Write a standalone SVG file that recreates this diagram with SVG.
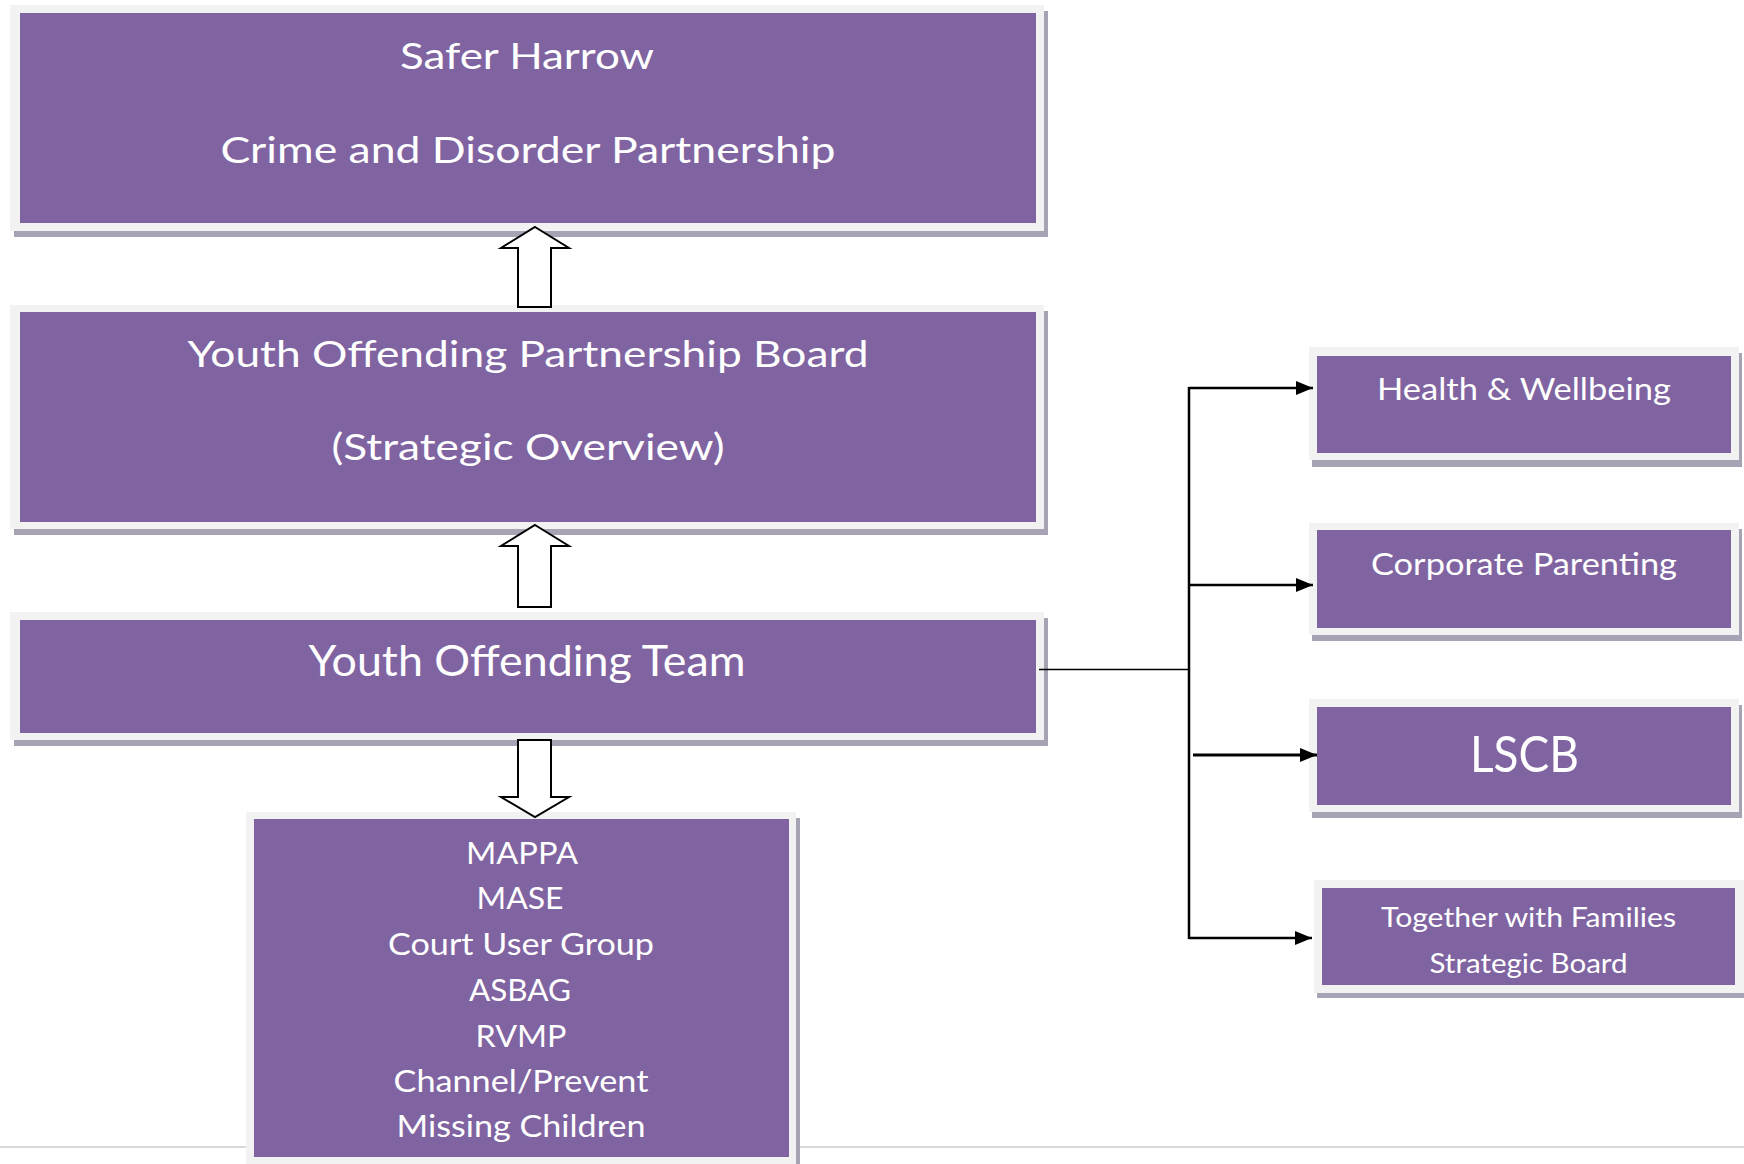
<svg xmlns="http://www.w3.org/2000/svg" width="1744" height="1164" viewBox="0 0 1744 1164">
<style>
.shadow{fill:#a8a3b4}
.frame{fill:#f2f2f2}
.box{fill:#8064a2}
.t{fill:#ffffff;font-family:Lato,"Open Sans","Liberation Sans",sans-serif;text-anchor:middle}
.conn{stroke:#000;fill:none}
.block{fill:#ffffff;stroke:#000;stroke-width:2;stroke-linejoin:miter}
</style>
<defs>
<marker id="ah" markerUnits="userSpaceOnUse" markerWidth="18" markerHeight="15" refX="17" refY="7" orient="auto">
<path d="M0,0 L17,7 L0,14 z" fill="#000"/>
</marker>
</defs>
<rect x="0" y="0" width="1744" height="1164" fill="#ffffff"/>
<line x1="0" y1="1147" x2="1744" y2="1147" stroke="#d9d9d9" stroke-width="2"/>

<g id="safer-harrow">
<rect class="shadow" x="14" y="11" width="1034" height="226"/>
<rect class="frame" x="10" y="5" width="1034" height="226"/>
<rect class="box" x="20" y="13" width="1016" height="210"/>
<text class="t" x="527" y="69" font-size="36" textLength="254" lengthAdjust="spacingAndGlyphs">Safer Harrow</text>
<text class="t" x="528" y="163" font-size="36" textLength="615" lengthAdjust="spacingAndGlyphs">Crime and Disorder Partnership</text>
</g>

<g id="yopb">
<rect class="shadow" x="14" y="311" width="1034" height="224"/>
<rect class="frame" x="10" y="305" width="1034" height="224"/>
<rect class="box" x="20" y="312" width="1016" height="210"/>
<text class="t" x="528" y="367" font-size="37" textLength="681" lengthAdjust="spacingAndGlyphs">Youth Offending Partnership Board</text>
<text class="t" x="528" y="460" font-size="37" textLength="393" lengthAdjust="spacingAndGlyphs">(Strategic Overview)</text>
</g>

<g id="yot">
<rect class="shadow" x="14" y="618" width="1034" height="128"/>
<rect class="frame" x="10" y="612" width="1034" height="128"/>
<rect class="box" x="20" y="620" width="1016" height="113"/>
<text class="t" x="527" y="676" font-size="42" textLength="437" lengthAdjust="spacingAndGlyphs">Youth Offending Team</text>
</g>

<g id="groups">
<rect class="shadow" x="250" y="818" width="550" height="360"/>
<rect class="frame" x="246" y="812" width="550" height="360"/>
<rect class="box" x="254" y="819" width="535" height="338"/>
<text class="t" x="522" y="864" font-size="30" textLength="112" lengthAdjust="spacingAndGlyphs">MAPPA</text>
<text class="t" x="520" y="909" font-size="30" textLength="87" lengthAdjust="spacingAndGlyphs">MASE</text>
<text class="t" x="521" y="955" font-size="30" textLength="266" lengthAdjust="spacingAndGlyphs">Court User Group</text>
<text class="t" x="520" y="1001" font-size="30" textLength="102" lengthAdjust="spacingAndGlyphs">ASBAG</text>
<text class="t" x="521" y="1047" font-size="30" textLength="91" lengthAdjust="spacingAndGlyphs">RVMP</text>
<text class="t" x="521" y="1092" font-size="30" textLength="255" lengthAdjust="spacingAndGlyphs">Channel/Prevent</text>
<text class="t" x="521" y="1137" font-size="30" textLength="249" lengthAdjust="spacingAndGlyphs">Missing Children</text>
</g>

<g id="health">
<rect class="shadow" x="1312" y="353" width="430" height="114"/>
<rect class="frame" x="1309" y="347" width="430" height="113"/>
<rect class="box" x="1317" y="356" width="414" height="97"/>
<text class="t" x="1524" y="400" font-size="31" textLength="294" lengthAdjust="spacingAndGlyphs">Health &amp; Wellbeing</text>
</g>

<g id="corporate">
<rect class="shadow" x="1312" y="529" width="430" height="112"/>
<rect class="frame" x="1309" y="523" width="430" height="112"/>
<rect class="box" x="1317" y="530" width="414" height="98"/>
<text class="t" x="1524" y="575" font-size="31" textLength="306" lengthAdjust="spacingAndGlyphs">Corporate Parenting</text>
</g>

<g id="lscb">
<rect class="shadow" x="1312" y="705" width="430" height="113"/>
<rect class="frame" x="1309" y="699" width="430" height="113"/>
<rect class="box" x="1317" y="707" width="414" height="98"/>
<text class="t" x="1524.5" y="772" font-size="51" textLength="109" lengthAdjust="spacingAndGlyphs">LSCB</text>
</g>

<g id="together">
<rect class="shadow" x="1317" y="886" width="430" height="112"/>
<rect class="frame" x="1314" y="880" width="430" height="113"/>
<rect class="box" x="1322" y="888" width="413" height="97"/>
<text class="t" x="1528.5" y="927" font-size="26" textLength="295" lengthAdjust="spacingAndGlyphs">Together with Families</text>
<text class="t" x="1528.5" y="973" font-size="26" textLength="198" lengthAdjust="spacingAndGlyphs">Strategic Board</text>
</g>

<g id="connectors">
<polygon class="block" points="535,227 569,248 551,248 551,307 518,307 518,248 501,248"/>
<polygon class="block" points="535,525 569,546 551,546 551,607 518,607 518,546 501,546"/>
<polygon class="block" points="518,740 551,740 551,797 569,797 535,817 501,797 518,797"/>
<line class="conn" x1="1039" y1="669.5" x2="1189" y2="669.5" stroke-width="1.6"/>
<line class="conn" x1="1189" y1="387" x2="1189" y2="939" stroke-width="2.5"/>
<line class="conn" x1="1189" y1="388" x2="1313" y2="388" stroke-width="2.5" marker-end="url(#ah)"/>
<line class="conn" x1="1189" y1="585" x2="1313" y2="585" stroke-width="2.5" marker-end="url(#ah)"/>
<line class="conn" x1="1193" y1="755" x2="1317" y2="755" stroke-width="3" marker-end="url(#ah)"/>
<line class="conn" x1="1189" y1="938" x2="1312" y2="938" stroke-width="2.5" marker-end="url(#ah)"/>
</g>
</svg>
